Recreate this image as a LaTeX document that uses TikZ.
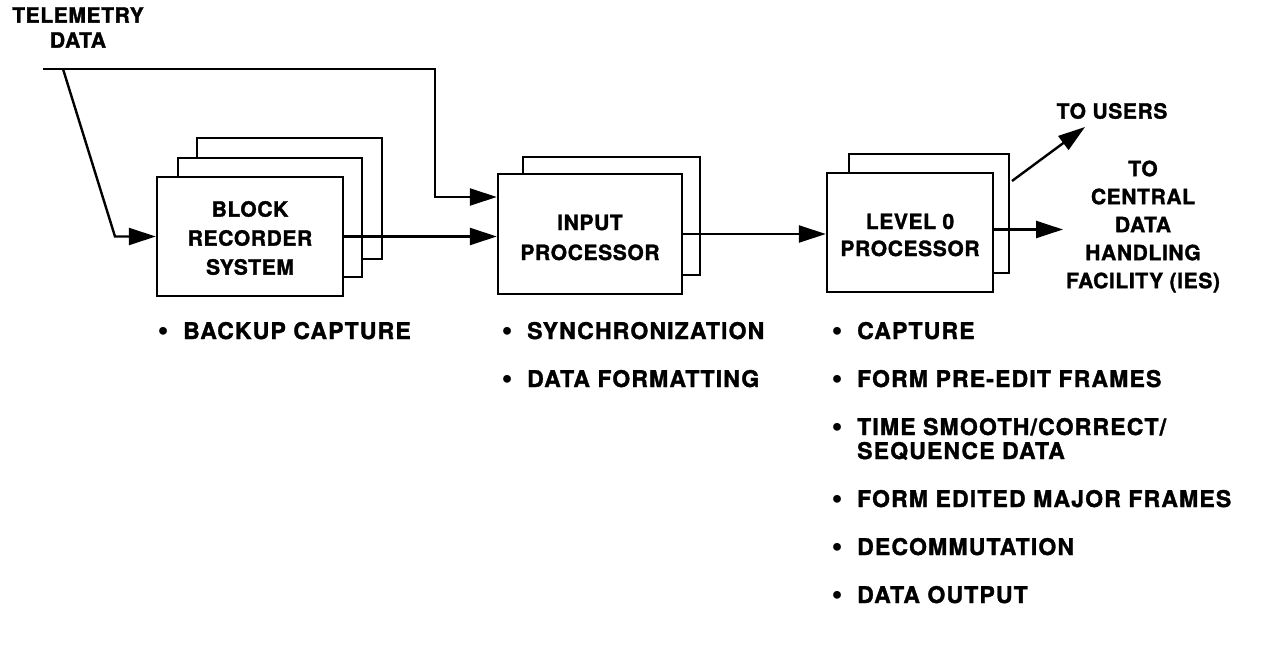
\documentclass[tikz,border=0pt]{standalone}
\usepackage{fontspec}
\setmainfont{TeX Gyre Heros}
\newfontfamily\lblfont{TeX Gyre Heros}[LetterSpace=3, BoldFeatures={FakeBold=1.5}]
\newfontfamily\itmfont{TeX Gyre Heros}[LetterSpace=5, BoldFeatures={FakeBold=1.5}]
\newfontfamily\dotfont{DejaVu Sans}
\usetikzlibrary{arrows.meta}
\newcommand\bul{\makebox[27pt][l]{\dotfont\bfseries\fontsize{22}{24}\selectfont •}}
\tikzset{
  lbl/.style={font=\lblfont\bfseries\fontsize{21}{#1}\selectfont, align=center, inner sep=0pt},
  lbl/.default=28,
  itm/.style={font=\itmfont\bfseries\fontsize{23}{24}\selectfont, anchor=base west, inner sep=0pt},
  frontbox/.style={draw, line width=2.4pt, fill=white, inner sep=0pt},
  backbox/.style={draw, line width=2pt, fill=white, inner sep=0pt},
  flow/.style={line width=2.4pt, -{Triangle[length=27pt,width=17pt]}},
}
\begin{document}
\begin{tikzpicture}[x=1pt,y=-1pt]
\useasboundingbox (0,0) rectangle (1261,660);

% block recorder system: three stacked units
\node[backbox, minimum width=185pt, minimum height=121pt] (blk3) at (289.5,198.5) {};
\node[backbox, minimum width=184pt, minimum height=119pt] (blk2) at (270,217.5) {};
\node[frontbox, minimum width=186pt, minimum height=119pt] (blk) at (250,236.5) {};
\node[lbl=29] (blkt) at (250,238) {BLOCK\\RECORDER\\SYSTEM};

% input processor: two stacked units
\node[backbox, minimum width=177pt, minimum height=118pt] (inp2) at (611.5,216) {};
\node[frontbox, minimum width=184pt, minimum height=120pt] (inp) at (590,234) {};
\node[lbl=30] (inpt) at (590,237.5) {INPUT\\PROCESSOR};

% level 0 processor: two stacked units
\node[backbox, minimum width=160pt, minimum height=119pt] (lvl2) at (929,213.5) {};
\node[frontbox, minimum width=166pt, minimum height=119pt] (lvl) at (910,232.5) {};
\node[lbl=27] (lvlt) at (910,235) {LEVEL 0\\PROCESSOR};

% telemetry input
\node[lbl=25] (tel) at (78,27.5) {TELEMETRY\\DATA};
\coordinate (tin) at (43,69);
\coordinate (tsplit) at (63,69);
\coordinate (tturn) at (435,69);
\coordinate (tbend) at (115,0);
\draw[flow] (tin) -- (tturn) |- ([yshift=37pt]inp.west);
\draw[flow] (tsplit) -- (tbend |- blk.west) -- (blk.west);

% main data path
\draw[flow] (blk.east) -- (blk.east -| inp.west);
\draw[flow] (inp.east) -- (inp.east -| lvl.west);

% outputs
\node[lbl] (users) at (1112,111) {TO USERS};
\node[lbl] (cdhf) at (1143,226.5) {TO\\CENTRAL\\DATA\\HANDLING\\FACILITY (IES)};
\coordinate (ustart) at (1012,181);
\coordinate (uend) at (1085,127);
\draw[flow] (ustart) -- (uend);
\coordinate (lout) at ([yshift=3pt]lvl.east);
\coordinate (cdhin) at (1063,0);
\draw[flow] (lout) -- (lout -| cdhin);

% function lists
\node[itm] (b1) at (156,339) {\bul BACKUP CAPTURE};
\node[itm] (s1) at (500,339) {\bul SYNCHRONIZATION};
\node[itm] (s2) at (500,387) {\bul DATA FORMATTING};
\node[itm] (l1) at (830,339) {\bul CAPTURE};
\node[itm] (l2) at (830,387) {\bul FORM PRE-EDIT FRAMES};
\node[itm] (l3) at (830,435) {\bul TIME SMOOTH/CORRECT/};
\node[itm] (l3b) at (857,459) {SEQUENCE DATA};
\node[itm] (l4) at (830,507) {\bul FORM EDITED MAJOR FRAMES};
\node[itm] (l5) at (830,555) {\bul DECOMMUTATION};
\node[itm] (l6) at (830,603) {\bul DATA OUTPUT};
\end{tikzpicture}
\end{document}
